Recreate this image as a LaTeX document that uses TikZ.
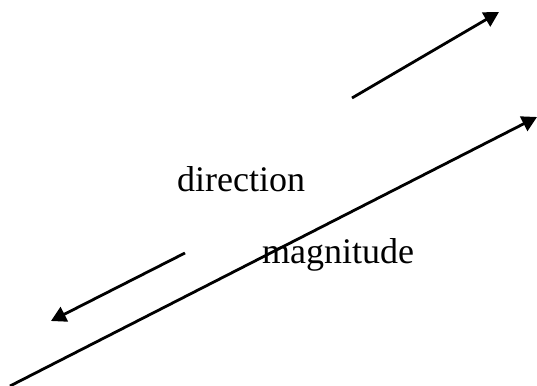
\documentclass[tikz,border=0pt]{standalone}
\usepackage{fontspec}
\setmainfont{Liberation Serif}
\usetikzlibrary{arrows.meta}
\tikzset{
  vec/.style={line width=2.8pt, -{Triangle[length=15pt, width=16pt]}},
  lbl/.style={anchor=base west, inner sep=0pt, font=\fontsize{36}{40}\selectfont}
}

\begin{document}
\begin{tikzpicture}[x=1pt, y=-1pt]
  \useasboundingbox (0,0) rectangle (537,385);
  % end points of the three arrows
  \coordinate (upA)   at (352,98);
  \coordinate (upB)   at (499,12);
  \coordinate (longA) at (10,386);
  \coordinate (longB) at (537,117);
  \coordinate (downA) at (185,253);
  \coordinate (downB) at (51,321);

  \node[lbl] (dir) at (177,191) {direction};
  \node[lbl] (mag) at (262,263) {magnitude};

  \draw[vec] (upA) -- (upB);
  \draw[vec] (longA) -- (longB);
  \draw[vec] (downA) -- (downB);
\end{tikzpicture}
\end{document}
